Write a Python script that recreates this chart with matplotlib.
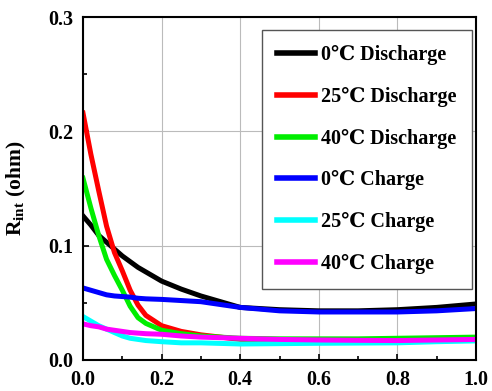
import numpy as np
import matplotlib
matplotlib.use("Agg")
import matplotlib.pyplot as plt
from matplotlib.ticker import MultipleLocator

plt.rcParams['font.family'] = ['Liberation Serif', 'DejaVu Serif']
plt.rcParams['font.weight'] = 'bold'
plt.rcParams['mathtext.fontset'] = 'custom'
plt.rcParams['mathtext.rm'] = 'Liberation Serif:bold'
plt.rcParams['mathtext.bf'] = 'Liberation Serif:bold'

# state of charge samples
soc = [0.0, 0.02, 0.04, 0.06, 0.08, 0.1, 0.12, 0.14, 0.16, 0.2, 0.25,
       0.3, 0.4, 0.5, 0.6, 0.7, 0.8, 0.9, 1.0]

dis_0 = [0.126, 0.118, 0.109, 0.103, 0.097, 0.091, 0.086, 0.081, 0.077, 0.069, 0.062,
         0.056, 0.046, 0.044, 0.043, 0.043, 0.044, 0.046, 0.049]
dis_25 = [0.216, 0.180, 0.148, 0.117, 0.094, 0.078, 0.061, 0.048, 0.039, 0.030, 0.025,
          0.022, 0.018, 0.017, 0.017, 0.017, 0.017, 0.0175, 0.018]
dis_40 = [0.159, 0.133, 0.109, 0.088, 0.074, 0.061, 0.047, 0.037, 0.032, 0.026, 0.023,
          0.021, 0.019, 0.0185, 0.0185, 0.0185, 0.019, 0.0195, 0.020]
chg_0 = [0.063, 0.061, 0.059, 0.057, 0.056, 0.0555, 0.055, 0.054, 0.0535, 0.053, 0.052,
         0.051, 0.046, 0.043, 0.042, 0.042, 0.042, 0.043, 0.045]
chg_25 = [0.038, 0.034, 0.030, 0.027, 0.024, 0.021, 0.019, 0.018, 0.017, 0.016, 0.015,
          0.015, 0.014, 0.0143, 0.0146, 0.0148, 0.015, 0.016, 0.0167]
chg_40 = [0.0316, 0.030, 0.029, 0.027, 0.026, 0.025, 0.024, 0.0235, 0.023, 0.0225, 0.021,
          0.020, 0.019, 0.018, 0.0175, 0.0172, 0.017, 0.0175, 0.018]

labels = ['0℃ Discharge', '25℃ Discharge', '40℃ Discharge',
          '0℃ Charge', '25℃ Charge', '40℃ Charge']
colors = ['#000000', '#ff0000', '#00ee00', '#0000ff', '#00ffff', '#ff00ff']
series = [dis_0, dis_25, dis_40, chg_0, chg_25, chg_40]

fig = plt.figure(figsize=(4.92, 3.91), dpi=100)
ax = fig.add_axes([0.1687, 0.0793, 0.7988, 0.8772])

for vals, col, lab in zip(series, colors, labels):
    ax.plot(soc, vals, color=col, lw=3.6, label=lab, solid_joinstyle='round')

ax.set_xlim(0, 1.0)
ax.set_ylim(0, 0.3)
ax.xaxis.set_major_locator(MultipleLocator(0.2))
ax.xaxis.set_minor_locator(MultipleLocator(0.1))
ax.yaxis.set_major_locator(MultipleLocator(0.1))
ax.yaxis.set_minor_locator(MultipleLocator(0.05))
ax.xaxis.set_major_formatter(plt.FormatStrFormatter('%.1f'))
ax.yaxis.set_major_formatter(plt.FormatStrFormatter('%.1f'))
ax.tick_params(which='both', direction='in', labelsize=14.5, width=1.2, pad=7)
ax.tick_params(which='major', length=4)
ax.tick_params(which='minor', length=3)
for lab in ax.get_xticklabels() + ax.get_yticklabels():
    lab.set_fontweight('bold')
ax.grid(True, which='major', color='#bbbbbb', lw=0.8)
for sp in ax.spines.values():
    sp.set_linewidth(1.5)

ax.set_ylabel(r'R$_{\rm int}$ (ohm)', fontsize=15.5, fontweight='bold')
ax.yaxis.set_label_coords(-0.14, 0.5)

leg = ax.legend(loc='upper right', bbox_to_anchor=(0.99, 0.962), borderaxespad=0,
                labelspacing=1.08, handlelength=1.9, handletextpad=0.3,
                borderpad=0.75, fancybox=False, framealpha=1, edgecolor='#555555',
                prop={'weight': 'bold', 'size': 14.5})
leg.get_frame().set_linewidth(1.0)
for line in leg.get_lines():
    line.set_linewidth(4)

fig.savefig('out.png', dpi=100)
